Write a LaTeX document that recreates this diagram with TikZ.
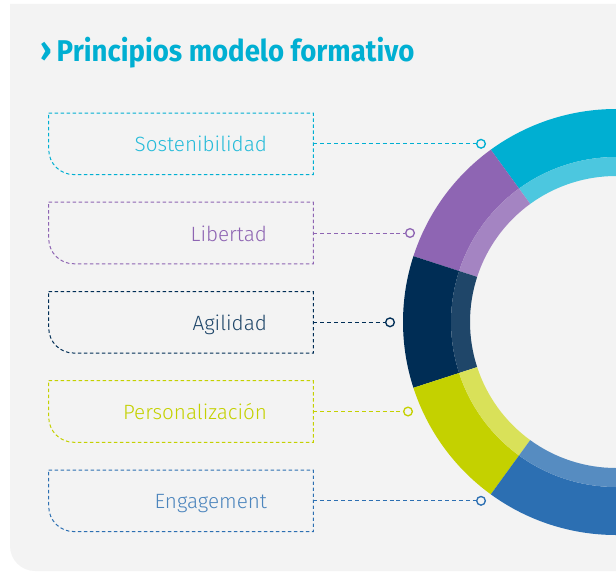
\documentclass[tikz,border=0pt]{standalone}
\usepackage{fontspec}
\usepackage{tikz}
\usetikzlibrary{positioning, shapes}
\newfontfamily\labelfont{Fira Sans Light}
\newfontfamily\titlefont[FakeStretch=0.92]{Fira Sans}
\definecolor{SostCyan}{RGB}{0, 175, 210}
\definecolor{LibPurple}{RGB}{142, 101, 179}
\definecolor{AgiNavy}{RGB}{0, 45, 85}
\definecolor{PersLime}{RGB}{196, 209, 0}
\definecolor{EngBlue}{RGB}{44, 111, 178}
\definecolor{PanelGray}{RGB}{243, 243, 243}

\begin{document}
\begin{tikzpicture}[x=0.75pt, y=0.75pt,
    pbox/.style={minimum width=198pt, minimum height=45.75pt, inner sep=0pt,
      text width=129pt, text height=14pt, text depth=2pt, align=right,
      font=\labelfont\fontsize{15.5}{18}\selectfont},
    boxline/.style={line width=0.75pt, dash pattern=on 2.6pt off 1.9pt},
    link/.style={line width=0.75pt, dash pattern=on 3pt off 2.2pt},
    endpt/.style={circle, draw, fill=PanelGray, line width=1pt, minimum size=6.5pt, inner sep=0pt}]
    \useasboundingbox (0,0) rectangle (616,572);

    % Panel
    \fill[PanelGray] (10,568) -- (616,568) -- (616,1) -- (35,1)
      arc[start angle=270, end angle=180, radius=25] -- cycle;

    % Title
    \node[anchor=base west, inner sep=0pt, text=SostCyan,
      font=\titlefont\bfseries\fontsize{22.5}{26}\selectfont] (title) at (40, 510)
      {{\fontsize{26}{26}\selectfont ›}\,Principios modelo formativo};

    % Ring: outer band and lighter inner band
    \begin{scope}[shift={(616,250)}]
      \foreach \c/\a/\m in {SostCyan/90/70, LibPurple/126/80, AgiNavy/162/88,
                            PersLime/198/65, EngBlue/234/80} {
        \pgfmathsetmacro\b{\a+36}
        \fill[\c] (\a:213) arc[start angle=\a, end angle=\b, radius=213]
          -- (\b:165) arc[start angle=\b, end angle=\a, radius=165] -- cycle;
        \fill[\c!\m!white] (\a:165) arc[start angle=\a, end angle=\b, radius=165]
          -- (\b:146) arc[start angle=\b, end angle=\a, radius=146] -- cycle;
      }
    \end{scope}

    % Principle boxes
    \node[pbox, text=SostCyan!85!white] (sost) at (181, 428.2) {Sostenibilidad};
    \node[pbox, text=LibPurple] (lib) at (181, 339) {Libertad};
    \node[pbox, text=AgiNavy!88!white] (agi) at (181, 249.7) {Agilidad};
    \node[pbox, text=PersLime] (pers) at (181, 160.5) {Personalización};
    \node[pbox, text=EngBlue!85!white] (eng) at (181, 71.2) {Engagement};

    % End points on the ring
    \node[endpt, draw=SostCyan] (sostend) at (481, 428.2) {};
    \node[endpt, draw=LibPurple] (libend) at (410, 339) {};
    \node[endpt, draw=AgiNavy] (agiend) at (390, 249.7) {};
    \node[endpt, draw=PersLime] (persend) at (408, 160.5) {};
    \node[endpt, draw=EngBlue] (engend) at (481, 71.2) {};

    \foreach \n/\c in {sost/SostCyan, lib/LibPurple, agi/AgiNavy, pers/PersLime, eng/EngBlue} {
      \draw[boxline, \c] (\n.north west) -- (\n.north east) -- (\n.south east)
        -- ([xshift=18.75pt]\n.south west) arc[start angle=270, end angle=180, radius=18.75pt]
        -- cycle;
      \draw[link, \c] (\n.east) -- (\n end);
    }
\end{tikzpicture}
\end{document}
